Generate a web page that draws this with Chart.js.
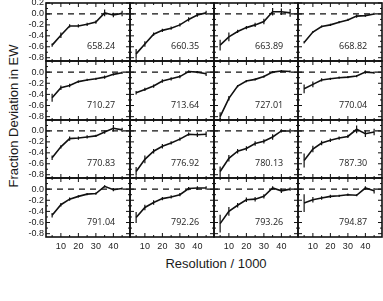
<!DOCTYPE html>
<html>
<head>
<meta charset="utf-8">
<script src="https://cdn.jsdelivr.net/npm/chart.js@4.4.1/dist/chart.umd.min.js"></script>
<style>
  body { margin: 0; background: #fff; }
  #wrap { position: relative; width: 383px; height: 301px; overflow: hidden; background: #fff; }
  #wrap canvas { position: absolute; left: 0; top: 0; }
  .axis-title { position: absolute; font-family: "Liberation Sans", Arial, sans-serif; color: #1a1a1a; white-space: nowrap; }
  #xTitle { left: 216px; top: 263px; font-size: 13px; transform: translate(-50%, -50%); }
  #yTitle { left: 13px; top: 116px; font-size: 13px; transform: translate(-50%, -50%) rotate(-90deg); }
</style>
</head>
<body>
<div id="wrap">
  <div class="axis-title" id="xTitle">Resolution / 1000</div>
  <div class="axis-title" id="yTitle">Fraction Deviation in EW</div>
</div>
<script>
// resolution steps (x, in units of 1000)
const resolution = [5, 10, 15, 20, 25, 30, 35, 40, 45];

// tick values
const xTicks = [10, 20, 30, 40];
const yTicks = [-0.8, -0.6, -0.4, -0.2, 0.0, 0.2];

// line labels, one per panel (row by row)
const lineLabels = ['658.24', '660.35', '663.89', '668.82',
                    '710.27', '713.64', '727.01', '770.04',
                    '770.83', '776.92', '780.13', '787.30',
                    '791.04', '792.26', '793.26', '794.87'];

// fractional deviation and error per line
const dev658 = [-0.57, -0.39, -0.22, -0.22, -0.19, -0.15, 0.02, -0.02, 0.01];
const err658 = [0.03, 0.05, 0.03, 0.03, 0.03, 0.03, 0.06, 0.04, 0.05];
const dev660 = [-0.73, -0.55, -0.37, -0.30, -0.26, -0.20, -0.10, -0.02, 0.02];
const err660 = [0.09, 0.05, 0.03, 0.03, 0.03, 0.03, 0.04, 0.03, 0.04];
const dev663 = [-0.57, -0.42, -0.32, -0.25, -0.20, -0.14, 0.04, 0.04, 0.02];
const err663 = [0.10, 0.08, 0.03, 0.03, 0.04, 0.05, 0.07, 0.06, 0.07];
const dev668 = [-0.52, -0.33, -0.23, -0.20, -0.15, -0.11, -0.04, -0.03, 0.00];
const err668 = [0.02, 0.02, 0.02, 0.02, 0.02, 0.02, 0.03, 0.02, 0.02];
const dev710 = [-0.46, -0.28, -0.24, -0.17, -0.14, -0.12, -0.09, -0.04, -0.01];
const err710 = [0.07, 0.04, 0.03, 0.02, 0.02, 0.02, 0.03, 0.02, 0.02];
const dev713 = [-0.37, -0.31, -0.25, -0.16, -0.12, -0.08, 0.01, 0.00, -0.03];
const err713 = [0.03, 0.03, 0.03, 0.03, 0.03, 0.03, 0.02, 0.02, 0.04];
const dev727 = [-0.80, -0.47, -0.25, -0.16, -0.13, -0.08, 0.00, 0.02, 0.01];
const err727 = [0.08, 0.04, 0.02, 0.02, 0.02, 0.02, 0.02, 0.02, 0.02];
const dev770a = [-0.30, -0.22, -0.14, -0.12, -0.10, -0.09, -0.07, 0.00, -0.01];
const err770a = [0.08, 0.05, 0.03, 0.02, 0.02, 0.02, 0.02, 0.03, 0.02];
const dev770b = [-0.49, -0.29, -0.14, -0.13, -0.11, -0.09, -0.02, 0.05, 0.02];
const err770b = [0.04, 0.03, 0.04, 0.03, 0.03, 0.02, 0.03, 0.06, 0.04];
const dev776 = [-0.74, -0.52, -0.37, -0.28, -0.22, -0.15, -0.06, -0.07, -0.06];
const err776 = [0.08, 0.07, 0.04, 0.04, 0.03, 0.03, 0.03, 0.04, 0.05];
const dev780 = [-0.74, -0.50, -0.37, -0.32, -0.23, -0.19, -0.11, 0.00, 0.00];
const err780 = [0.09, 0.06, 0.04, 0.04, 0.04, 0.04, 0.05, 0.03, 0.04];
const dev787 = [-0.54, -0.33, -0.22, -0.17, -0.13, -0.10, 0.03, -0.05, -0.02];
const err787 = [0.13, 0.06, 0.04, 0.03, 0.03, 0.03, 0.07, 0.06, 0.06];
const dev791 = [-0.47, -0.28, -0.18, -0.13, -0.09, -0.08, 0.05, -0.01, 0.01];
const err791 = [0.04, 0.03, 0.03, 0.02, 0.02, 0.02, 0.02, 0.03, 0.02];
const dev792 = [-0.51, -0.33, -0.24, -0.17, -0.14, -0.10, 0.01, 0.02, 0.02];
const err792 = [0.10, 0.05, 0.04, 0.03, 0.03, 0.03, 0.03, 0.03, 0.03];
const dev793 = [-0.62, -0.40, -0.29, -0.19, -0.18, -0.13, 0.02, -0.03, 0.00];
const err793 = [0.16, 0.08, 0.04, 0.04, 0.04, 0.04, 0.03, 0.04, 0.03];
const dev794 = [-0.25, -0.19, -0.16, -0.13, -0.12, -0.10, -0.11, 0.02, -0.03];
const err794 = [0.16, 0.05, 0.03, 0.03, 0.02, 0.02, 0.02, 0.03, 0.05];

const panelValues = [dev658, dev660, dev663, dev668, dev710, dev713, dev727, dev770a,
                     dev770b, dev776, dev780, dev787, dev791, dev792, dev793, dev794];
const panelErrors = [err658, err660, err663, err668, err710, err713, err727, err770a,
                     err770b, err776, err780, err787, err791, err792, err793, err794];

// panel grid (pixels)
const W = 383, H = 301;
const colLeft = [46, 130, 214, 298];
const panelW = 84;
const rowTop = [3, 61, 120, 178];
const rowBottom = [61, 120, 178, 237];
const tickFont = { family: '"Liberation Sans", Arial, sans-serif', size: 9 };

// frame, inward ticks, error bars and line label
const panelDecor = {
  id: 'panelDecor',
  afterDatasetsDraw(chart, args, opts) {
    const { ctx, chartArea: a, scales: { x, y } } = chart;
    ctx.save();
    ctx.strokeStyle = '#111';
    ctx.lineWidth = 1.2;
    opts.values.forEach((v, i) => {
      const px = x.getPixelForValue(resolution[i]);
      ctx.beginPath();
      ctx.moveTo(px, y.getPixelForValue(v - opts.errors[i]));
      ctx.lineTo(px, y.getPixelForValue(v + opts.errors[i]));
      ctx.stroke();
    });

    ctx.lineWidth = 1;
    for (let t = 5; t < 49; t += 5) {
      const px = x.getPixelForValue(t);
      const len = t % 10 === 0 ? 4 : 2;
      ctx.beginPath();
      ctx.moveTo(px, a.bottom); ctx.lineTo(px, a.bottom - len);
      ctx.moveTo(px, a.top); ctx.lineTo(px, a.top + len);
      ctx.stroke();
    }
    for (let k = -8; k <= 2; k++) {
      const py = y.getPixelForValue(k / 10);
      const len = k % 2 === 0 ? 4 : 2;
      ctx.beginPath();
      ctx.moveTo(a.left, py); ctx.lineTo(a.left + len, py);
      ctx.moveTo(a.right, py); ctx.lineTo(a.right - len, py);
      ctx.stroke();
    }

    ctx.lineWidth = 1.6;
    ctx.strokeRect(a.left, a.top, a.right - a.left, a.bottom - a.top);

    ctx.fillStyle = '#222';
    ctx.font = '9px "Open Sans", sans-serif';
    ctx.textAlign = 'center';
    ctx.textBaseline = 'middle';
    ctx.fillText(opts.label, x.getPixelForValue(33), y.getPixelForValue(-0.59));
    ctx.restore();
  }
};

const wrap = document.getElementById('wrap');

lineLabels.forEach((label, p) => {
  const row = Math.floor(p / 4), col = p % 4;
  const canvas = document.createElement('canvas');
  canvas.width = W;
  canvas.height = H;
  wrap.appendChild(canvas);

  const showY = col === 0, showX = row === 3;
  const yTickSet = row === 0 ? yTicks : yTicks.filter(v => v < 0.1);

  new Chart(canvas.getContext('2d'), {
    type: 'line',
    data: {
      datasets: [{
        data: [{ x: 1.5, y: 0 }, { x: 49.5, y: 0 }],
        borderColor: '#111',
        borderWidth: 1.2,
        borderDash: [6, 5],
        pointRadius: 0
      }, {
        data: resolution.map((r, i) => ({ x: r, y: panelValues[p][i] })),
        borderColor: '#111',
        borderWidth: 1.6,
        pointRadius: 0,
        tension: 0
      }]
    },
    options: {
      responsive: false,
      devicePixelRatio: 1,
      animation: false,
      events: [],
      layout: {
        padding: {
          left: showY ? 0 : colLeft[col],
          right: W - colLeft[col] - panelW,
          top: rowTop[row],
          bottom: showX ? 0 : H - rowBottom[row]
        }
      },
      scales: {
        x: {
          type: 'linear',
          min: 1.5,
          max: 49.5,
          display: showX,
          grid: { display: false, drawTicks: false },
          border: { display: false },
          ticks: { font: tickFont, color: '#222', padding: 4, maxRotation: 0, autoSkip: false },
          afterBuildTicks: s => { s.ticks = xTicks.map(v => ({ value: v })); },
          afterFit: s => {
            if (showX) { s.height = H - rowBottom[row]; s.paddingLeft = 0; s.paddingRight = 0; }
          }
        },
        y: {
          type: 'linear',
          min: -0.86,
          max: 0.2,
          display: showY,
          grid: { display: false, drawTicks: false },
          border: { display: false },
          ticks: { font: tickFont, color: '#222', padding: 2, autoSkip: false, callback: v => v.toFixed(1) },
          afterBuildTicks: s => { s.ticks = yTickSet.map(v => ({ value: v })); },
          afterFit: s => {
            if (showY) { s.width = colLeft[0]; s.paddingTop = 0; s.paddingBottom = 0; }
          }
        }
      },
      plugins: {
        legend: { display: false },
        tooltip: { enabled: false },
        panelDecor: { label, values: panelValues[p], errors: panelErrors[p] }
      }
    },
    plugins: [panelDecor]
  });
});
</script>
</body>
</html>
